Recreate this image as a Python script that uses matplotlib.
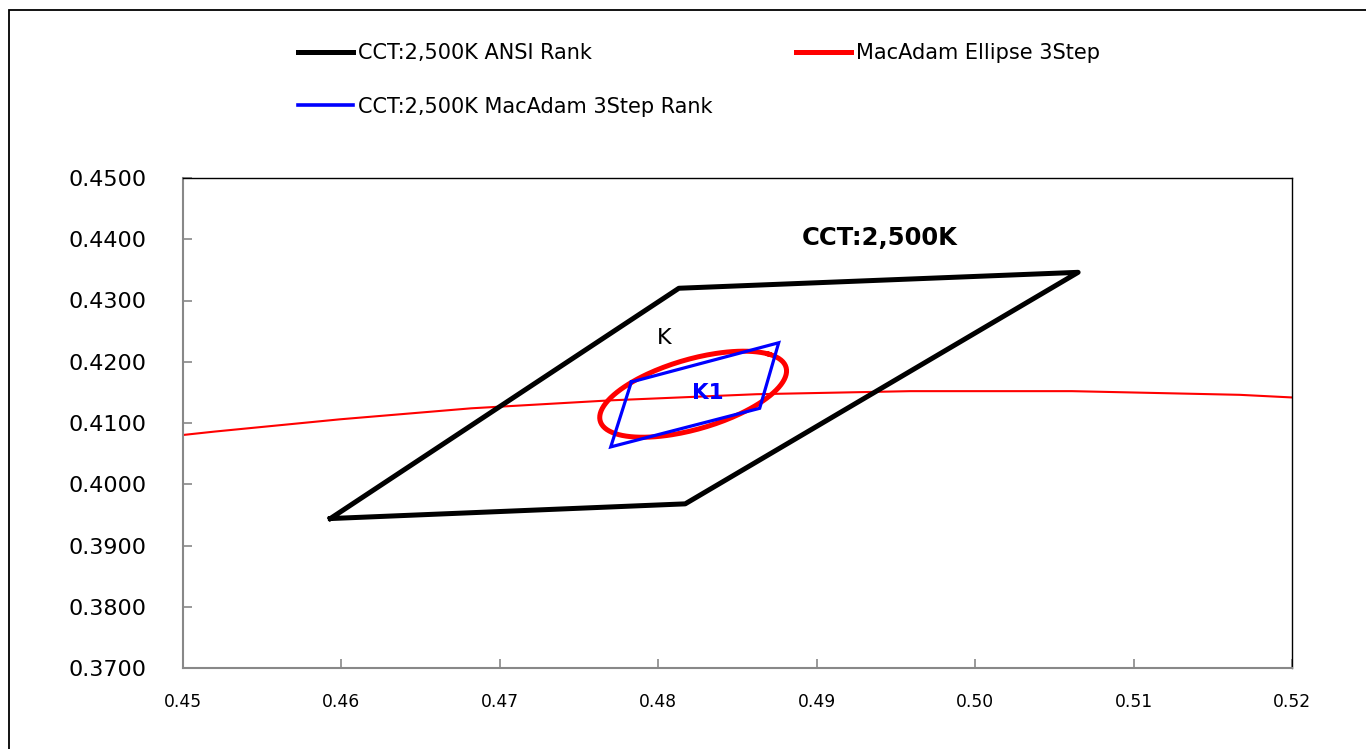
import numpy as np
import matplotlib
matplotlib.use("Agg")
import matplotlib.pyplot as plt
from matplotlib.lines import Line2D
from matplotlib.patches import Rectangle

plt.rcParams['font.family'] = ['DejaVu Sans']

# ANSI rank quadrangle (closed)
ansi_x = [0.4593, 0.4817, 0.5065, 0.4813, 0.4593]
ansi_y = [0.3944, 0.3968, 0.4346, 0.4320, 0.3944]

# MacAdam 3-step rank quadrangle (closed)
rank_x = [0.4783, 0.4876, 0.4864, 0.4770, 0.4783]
rank_y = [0.4167, 0.4231, 0.4124, 0.4061, 0.4167]

# MacAdam ellipse parameters: centre, semi axes, angle (deg)
ell_center = (0.4822, 0.4147)
ell_a = 0.0081
ell_b = 0.0043
ell_theta = 54.0

# black body locus points
bb_x = [0.4369, 0.4441, 0.4520, 0.4599, 0.4682, 0.4770, 0.4862, 0.4959, 0.5061, 0.5167, 0.5267]
bb_y = [0.4041, 0.4064, 0.4086, 0.4106, 0.4124, 0.4137, 0.4147, 0.4152, 0.4152, 0.4146, 0.4133]

x_ticks = [0.45, 0.46, 0.47, 0.48, 0.49, 0.50, 0.51, 0.52]
y_ticks = [0.37, 0.38, 0.39, 0.40, 0.41, 0.42, 0.43, 0.44, 0.45]

W, H = 1366, 749
fig = plt.figure(figsize=(W / 100, H / 100), dpi=100)
ax = fig.add_axes([183 / W, 1 - 668 / H, (1292 - 183) / W, (668 - 178) / H])

t = np.linspace(0, 2 * np.pi, 200)
th = np.radians(ell_theta)
ex = ell_center[0] + ell_a * np.cos(th) * np.cos(t) - ell_b * np.sin(th) * np.sin(t)
ey = ell_center[1] + ell_a * np.sin(th) * np.cos(t) + ell_b * np.cos(th) * np.sin(t)

ax.plot(bb_x, bb_y, color='#ff0000', lw=1.5, zorder=2)
ax.plot(ansi_x, ansi_y, color='black', lw=3.6, solid_joinstyle='round', zorder=3)
ax.plot(ex, ey, color='#ff0000', lw=3.6, zorder=4)
ax.plot(rank_x, rank_y, color='#0000ff', lw=2.3, solid_joinstyle='miter', zorder=5)

ax.text(0.4940, 0.4402, 'CCT:2,500K', fontsize=17.5, fontweight='bold',
        ha='center', va='center')
ax.text(0.4804, 0.4239, 'K', fontsize=16, ha='center', va='center')
ax.text(0.4831, 0.4149, 'K1', fontsize=15.5, fontweight='bold', color='#0000ff',
        ha='center', va='center')

ax.set_xlim(0.45, 0.52)
ax.set_ylim(0.37, 0.45)
ax.set_xticks(x_ticks)
ax.set_yticks(y_ticks)
ax.set_xticklabels(['%.2f' % v for v in x_ticks], fontsize=12.3)
ax.set_yticklabels(['%.4f' % v for v in y_ticks], fontsize=16)
ax.tick_params(axis='both', direction='in', color='#888888', width=1.2, length=6.5)
ax.tick_params(axis='x', pad=18)
ax.tick_params(axis='y', pad=26.5)
for side in ('left', 'bottom'):
    ax.spines[side].set_color('#888888')
    ax.spines[side].set_linewidth(1.5)
for side in ('top', 'right'):
    ax.spines[side].set_color('black')
    ax.spines[side].set_linewidth(1.0)

handles = [
    Line2D([], [], color='black', lw=3.6),
    Line2D([], [], color='#0000ff', lw=2.6),
    Line2D([], [], color='#ff0000', lw=3.6),
]
labels = ['CCT:2,500K ANSI Rank', 'CCT:2,500K MacAdam 3Step Rank', 'MacAdam Ellipse 3Step']
fig.legend(handles, labels, ncol=2, frameon=False, fontsize=15,
           loc='upper left', bbox_to_anchor=(290 / W, 1 - 35 / H),
           handlelength=2.64, handletextpad=0.23, columnspacing=4.0,
           labelspacing=1.6, borderaxespad=0)

# outer chart frame (clipped on right and bottom)
fig.patches.append(Rectangle((9 / W, -0.05), 1.2, 1 - 10 / H + 0.05,
                             transform=fig.transFigure, fill=False,
                             edgecolor='black', lw=1.3))

fig.savefig('out.png', dpi=100)
